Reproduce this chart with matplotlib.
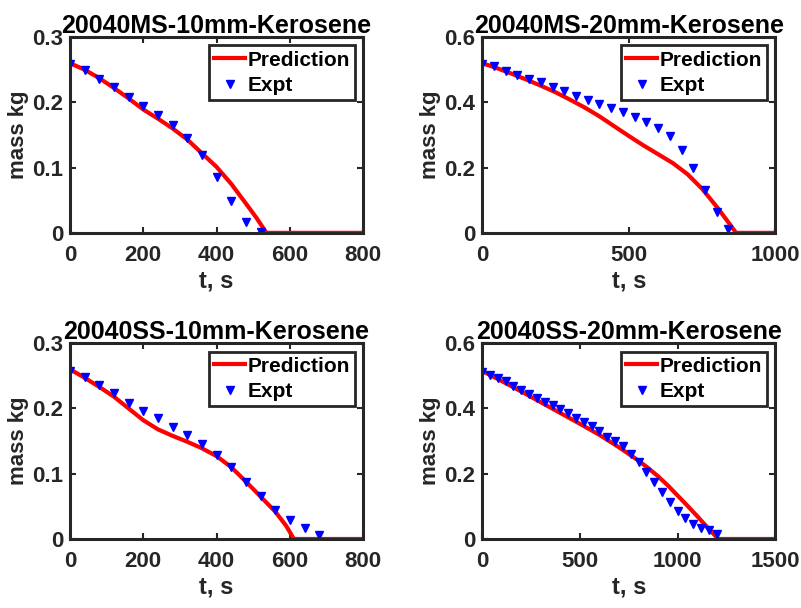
import matplotlib
matplotlib.use("Agg")
import matplotlib.pyplot as plt

plt.rcParams['font.family'] = ['Liberation Sans', 'DejaVu Sans']
plt.rcParams['font.weight'] = 'bold'

# 20040MS-10mm-Kerosene
ms10_t_pred = [0, 40, 80, 120, 160, 200, 240, 280, 320, 360, 400, 440, 480, 510, 536, 800]
ms10_m_pred = [0.260, 0.250, 0.237, 0.222, 0.206, 0.189, 0.175, 0.160, 0.143, 0.122, 0.101, 0.075, 0.045, 0.022, 0.0, 0.0]
ms10_t_exp = [0, 40, 80, 120, 160, 200, 240, 280, 320, 360, 400, 440, 480, 520]
ms10_m_exp = [0.258, 0.249, 0.236, 0.223, 0.208, 0.195, 0.180, 0.166, 0.145, 0.119, 0.085, 0.049, 0.017, 0.002]

# 20040MS-20mm-Kerosene
ms20_t_pred = [0, 50, 100, 150, 200, 250, 300, 350, 400, 450, 500, 550, 600, 650, 700, 750, 800, 840, 866, 1000]
ms20_m_pred = [0.520, 0.505, 0.488, 0.470, 0.451, 0.431, 0.408, 0.384, 0.357, 0.327, 0.297, 0.268, 0.241, 0.214,
               0.180, 0.135, 0.080, 0.032, 0.0, 0.0]
ms20_t_exp = [0, 40, 80, 120, 160, 200, 240, 280, 320, 360, 400, 440, 480, 520, 560, 600, 640, 680, 720, 760, 800, 840]
ms20_m_exp = [0.519, 0.512, 0.497, 0.484, 0.471, 0.461, 0.447, 0.434, 0.420, 0.408, 0.396, 0.382, 0.370, 0.356,
              0.339, 0.321, 0.297, 0.254, 0.199, 0.131, 0.064, 0.012]

# 20040SS-10mm-Kerosene
ss10_t_pred = [0, 40, 80, 120, 160, 200, 240, 280, 320, 360, 400, 440, 480, 520, 560, 590, 611, 800]
ss10_m_pred = [0.260, 0.247, 0.233, 0.218, 0.200, 0.182, 0.168, 0.158, 0.149, 0.139, 0.127, 0.110, 0.088, 0.065,
               0.042, 0.020, 0.0, 0.0]
ss10_t_exp = [0, 40, 80, 120, 160, 200, 240, 280, 320, 360, 400, 440, 480, 520, 560, 600, 640, 680]
ss10_m_exp = [0.258, 0.248, 0.236, 0.223, 0.209, 0.196, 0.185, 0.172, 0.160, 0.145, 0.129, 0.110, 0.087, 0.066,
              0.044, 0.029, 0.017, 0.006]

# 20040SS-20mm-Kerosene
ss20_t_pred = [0, 100, 200, 300, 400, 500, 600, 700, 800, 850, 900, 950, 1000, 1050, 1100, 1150, 1208, 1500]
ss20_m_pred = [0.515, 0.484, 0.452, 0.419, 0.386, 0.353, 0.319, 0.281, 0.240, 0.217, 0.192, 0.164, 0.133, 0.102,
               0.070, 0.037, 0.0, 0.0]
ss20_t_exp = [0, 40, 80, 120, 160, 200, 240, 280, 320, 360, 400, 440, 480, 520, 560, 600, 640, 680, 720, 760,
              800, 840, 880, 920, 960, 1000, 1040, 1080, 1120, 1160, 1200]
ss20_m_exp = [0.511, 0.504, 0.493, 0.483, 0.469, 0.457, 0.444, 0.432, 0.421, 0.410, 0.398, 0.385, 0.370, 0.358,
              0.345, 0.330, 0.314, 0.300, 0.284, 0.260, 0.235, 0.204, 0.174, 0.143, 0.114, 0.087, 0.064, 0.046,
              0.033, 0.027, 0.015]

panels = [
    ("20040MS-10mm-Kerosene", ms10_t_pred, ms10_m_pred, ms10_t_exp, ms10_m_exp, 800, 0.3, [0, 200, 400, 600, 800], [0, 0.1, 0.2, 0.3]),
    ("20040MS-20mm-Kerosene", ms20_t_pred, ms20_m_pred, ms20_t_exp, ms20_m_exp, 1000, 0.6, [0, 500, 1000], [0, 0.2, 0.4, 0.6]),
    ("20040SS-10mm-Kerosene", ss10_t_pred, ss10_m_pred, ss10_t_exp, ss10_m_exp, 800, 0.3, [0, 200, 400, 600, 800], [0, 0.1, 0.2, 0.3]),
    ("20040SS-20mm-Kerosene", ss20_t_pred, ss20_m_pred, ss20_t_exp, ss20_m_exp, 1500, 0.6, [0, 500, 1000, 1500], [0, 0.2, 0.4, 0.6]),
]

# axes boxes in figure fractions (left, bottom)
positions = [(0.0874, 0.617), (0.602, 0.617), (0.0874, 0.1135), (0.602, 0.1135)]
w, h = 0.366, 0.322

fig = plt.figure(figsize=(8.01, 6.08), dpi=100)
for (title, tp, mp, te, me, xmax, ymax, xt, yt), (l, b) in zip(panels, positions):
    ax = fig.add_axes([l, b, w, h])
    ax.plot(tp, mp, color='red', lw=3, label='Prediction')
    ax.plot(te, me, linestyle='none', marker='v', markersize=6, color='blue', label='Expt')
    ax.set_xlim(0, xmax)
    ax.set_ylim(0, ymax)
    ax.set_xticks(xt)
    ax.set_yticks(yt)
    ax.set_yticklabels(['0' if v == 0 else f'{v:g}' for v in yt])
    ax.set_title(title, fontsize=18, fontweight='bold', pad=3)
    ax.set_xlabel('t, s', fontsize=17, fontweight='bold', color='#262626', labelpad=2)
    ax.set_ylabel('mass kg', fontsize=16, fontweight='bold', color='#262626', labelpad=2)
    ax.tick_params(direction='in', top=True, right=True, labelsize=16, colors='#262626', length=4, width=1.5)
    ax.tick_params(axis='x', pad=9)
    ax.tick_params(axis='y', pad=5)
    for s in ax.spines.values():
        s.set_linewidth(2.2)
        s.set_color('#262626')
    leg = ax.legend(loc='upper right', fontsize=15, fancybox=False, framealpha=1, edgecolor='#262626',
                    borderaxespad=0.4, handlelength=1.5, handletextpad=0.1, borderpad=0.25, labelspacing=0.3)
    leg.get_frame().set_linewidth(2)
    for t in leg.get_texts():
        t.set_fontweight('bold')

fig.savefig('out.png', dpi=100)
